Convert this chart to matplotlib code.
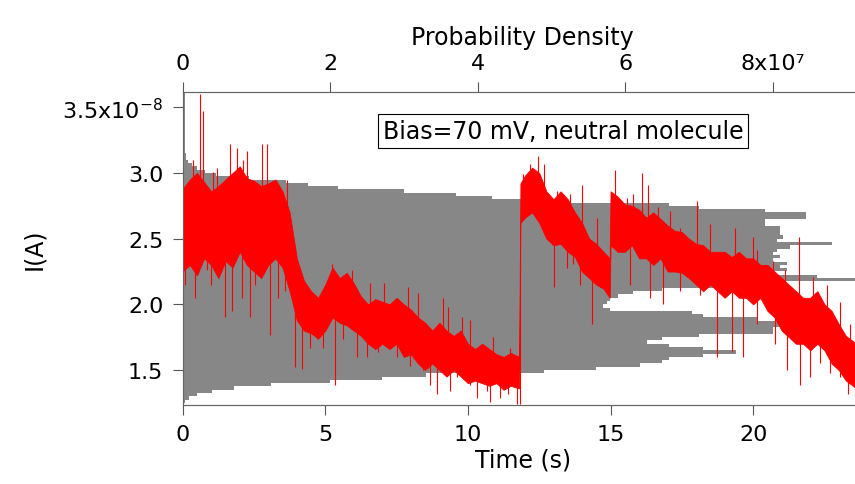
import numpy as np
import matplotlib
matplotlib.use("Agg")
import matplotlib.pyplot as plt

plt.rcParams['font.family'] = ['DejaVu Sans']

# histogram of current (units: 1e-8 A), bin lower edges and density (units: 1e7)
bin_lo = [1.250, 1.275, 1.300, 1.325, 1.350, 1.375, 1.400, 1.425, 1.450, 1.475,
          1.500, 1.525, 1.550, 1.575, 1.600, 1.625, 1.650, 1.675, 1.700, 1.725,
          1.750, 1.775, 1.800, 1.825, 1.850, 1.875, 1.900, 1.925, 1.950, 1.975,
          2.000, 2.025, 2.050, 2.075, 2.100, 2.125, 2.150, 2.175, 2.200, 2.225,
          2.250, 2.275, 2.300, 2.325, 2.350, 2.375, 2.400, 2.425, 2.450, 2.475,
          2.500, 2.525, 2.550, 2.575, 2.600, 2.625, 2.650, 2.675, 2.700, 2.725,
          2.750, 2.775, 2.800, 2.825, 2.850, 2.875, 2.900, 2.925, 2.950, 2.975,
          3.000, 3.025, 3.050, 3.075, 3.100, 3.125]
density = [0.03, 0.08, 0.2, 0.4, 0.7, 1.2, 2.0, 2.7, 3.3, 4.9,
           5.6, 6.2, 6.5, 6.6, 7.05, 7.5, 7.05, 6.6, 6.3, 6.5,
           7.0, 8.0, 8.0, 8.7, 8.7, 7.8, 7.05, 6.9, 5.8, 5.7,
           5.75, 5.8, 5.9, 6.1, 6.5, 7.9, 8.0, 9.3, 8.6, 8.0,
           8.2, 8.1, 8.2, 8.0, 8.1, 8.0, 8.06, 8.24, 8.8, 8.06,
           8.14, 8.1, 8.1, 8.1, 7.9, 7.9, 8.45, 8.45, 7.9, 7.0,
           6.6, 5.2, 4.2, 3.7, 3.0, 2.1, 1.7, 1.4, 0.9, 0.45,
           0.3, 0.2, 0.12, 0.07, 0.05, 0.04]
tail_lo, tail_hi, tail_dens = 3.15, 3.62, 0.03

# current trace: time (s), lower / upper edge of the dense band (1e-8 A)
t_s = [0.0, 0.25, 0.5, 0.75, 1.0, 1.25, 1.5, 1.75, 2.0, 2.25, 2.5, 2.75, 3.0, 3.25,
       3.5, 3.75, 4.0, 4.25, 4.5, 4.75, 5.0, 5.25, 5.5, 5.75, 6.0, 6.25, 6.5, 6.75,
       7.0, 7.25, 7.5, 7.75, 8.0, 8.25, 8.5, 8.75, 9.0, 9.25, 9.5, 9.75, 10.0, 10.25,
       10.5, 10.75, 11.0, 11.25, 11.5, 11.8, 11.84, 12.0, 12.25, 12.5, 12.75, 13.0,
       13.25, 13.5, 13.75, 14.0, 14.25, 14.5, 14.75, 14.97, 15.0, 15.25, 15.5, 15.75,
       16.0, 16.25, 16.5, 16.75, 17.0, 17.25, 17.5, 17.75, 18.0, 18.25, 18.5, 18.75,
       19.0, 19.25, 19.5, 19.75, 20.0, 20.25, 20.5, 20.75, 21.0, 21.25, 21.5, 21.75,
       22.0, 22.25, 22.5, 22.75, 23.0, 23.25, 23.5, 23.6]
i_lo = [2.25, 2.30, 2.22, 2.35, 2.30, 2.20, 2.33, 2.28, 2.40, 2.30, 2.25, 2.20, 2.30, 2.35,
        2.28, 2.10, 1.88, 1.80, 1.78, 1.74, 1.80, 1.90, 1.86, 1.84, 1.80, 1.76, 1.70, 1.66,
        1.70, 1.66, 1.70, 1.60, 1.62, 1.55, 1.50, 1.55, 1.50, 1.45, 1.50, 1.45, 1.40, 1.42,
        1.40, 1.38, 1.40, 1.35, 1.38, 1.36, 2.62, 2.66, 2.70, 2.62, 2.50, 2.45,
        2.46, 2.40, 2.36, 2.25, 2.20, 2.15, 2.12, 2.05, 2.45, 2.40, 2.40, 2.45,
        2.35, 2.35, 2.30, 2.35, 2.25, 2.25, 2.24, 2.20, 2.15, 2.10, 2.15, 2.10,
        2.05, 2.10, 2.05, 2.05, 2.00, 2.05, 1.95, 1.90, 1.80, 1.75, 1.70, 1.70,
        1.65, 1.70, 1.65, 1.55, 1.50, 1.42, 1.38, 1.36]
i_hi = [2.88, 2.95, 3.00, 2.93, 2.86, 2.90, 2.95, 3.00, 3.05, 2.96, 2.94, 2.90, 2.92, 2.95,
        2.86, 2.70, 2.35, 2.18, 2.10, 2.05, 2.15, 2.28, 2.20, 2.24, 2.16, 2.06, 2.00, 2.04,
        2.02, 2.00, 2.05, 2.00, 1.96, 1.90, 1.86, 1.80, 1.86, 1.80, 1.76, 1.80, 1.70, 1.66,
        1.70, 1.66, 1.62, 1.60, 1.63, 1.60, 2.92, 2.98, 3.04, 3.00, 2.86, 2.80,
        2.86, 2.80, 2.70, 2.62, 2.50, 2.46, 2.40, 2.35, 2.86, 2.82, 2.76, 2.75,
        2.72, 2.66, 2.70, 2.65, 2.60, 2.56, 2.55, 2.50, 2.46, 2.45, 2.40, 2.40,
        2.40, 2.36, 2.40, 2.35, 2.35, 2.30, 2.30, 2.25, 2.20, 2.15, 2.10, 2.05,
        2.05, 2.10, 2.00, 1.95, 1.85, 1.76, 1.72, 1.70]

# isolated spikes above the band: time (s), tip value (1e-8 A)
up_t = [0.35, 0.61, 0.70, 1.07, 1.19, 1.66, 1.89, 2.1, 2.24, 2.77, 2.94, 3.29, 3.64,
        5.22, 5.92, 6.57, 7.04, 7.91, 8.26, 9.14, 9.31, 9.78, 10.07, 10.89, 11.48,
        11.94, 12.18, 12.47, 12.65, 13.12, 13.58, 13.99, 14.51, 15.16, 15.57, 15.80,
        16.09, 16.33, 16.68, 17.09, 17.44, 18.02, 18.49, 19.37, 20.01, 20.13, 20.71,
        21.12, 21.61, 22.11, 22.58, 23.05, 23.40]
up_v = [3.10, 3.60, 3.47, 3.01, 3.04, 3.22, 3.19, 3.10, 3.17, 3.22, 3.22, 2.87, 2.95,
        2.31, 2.26, 2.16, 2.16, 2.13, 2.09, 2.05, 1.98, 1.90, 1.88, 1.75, 1.67,
        2.99, 3.07, 3.13, 3.07, 2.86, 2.84, 2.91, 2.66, 3.02, 2.81, 2.84,
        3.00, 2.91, 2.74, 2.71, 2.58, 2.79, 2.61, 2.58, 2.51, 2.41, 2.33,
        2.26, 2.51, 2.21, 2.15, 2.02, 1.85]
# isolated spikes below the band
dn_t = [0.08, 0.43, 0.84, 1.0, 1.48, 1.72, 2.07, 2.36, 2.53, 3.06, 3.35, 3.59, 3.94,
        4.17, 4.46, 4.70, 4.93, 5.34, 5.63, 6.10, 6.45, 6.86, 7.27, 7.5, 7.97, 8.44,
        8.67, 8.91, 9.37, 9.6, 10.07, 10.31, 10.66, 10.78, 11.13, 11.42, 11.71, 11.83,
        13.0, 13.47, 13.7, 13.93, 14.36, 14.63, 14.87, 15.68, 16.39, 16.85, 17.44,
        18.14, 18.72, 19.25, 19.66, 20.13, 20.77, 21.18, 21.65, 22.0, 22.35, 22.70,
        23.05, 23.34, 23.57]
dn_v = [2.15, 2.05, 2.26, 2.15, 1.90, 1.95, 2.05, 1.90, 2.15, 1.77, 2.05, 2.10, 1.52,
        1.51, 1.67, 1.74, 1.67, 1.39, 1.74, 1.60, 1.60, 1.64, 1.69, 1.60, 1.53, 1.50,
        1.39, 1.32, 1.34, 1.45, 1.39, 1.29, 1.34, 1.26, 1.29, 1.32, 1.24, 1.24,
        2.13, 2.28, 2.31, 2.15, 1.85, 2.13, 2.10, 2.15, 2.05, 2.00, 2.10,
        2.07, 1.60, 1.64, 1.60, 1.85, 1.70, 1.50, 1.39, 1.45, 1.55, 1.48,
        1.45, 1.32, 1.39]

bg = '#FDE8C4'
gray = '#878787'

fig = plt.figure(figsize=(8.55, 4.85), dpi=100)
ax = fig.add_axes([182.7 / 855, 79 / 485, 680 / 855, 313 / 485])
ax_top = ax.twiny()

# histogram underneath, trace on top
ax_top.set_facecolor(bg)
ax_top.barh(bin_lo, density, height=0.025, align='edge', color=gray, linewidth=0)
ax_top.barh(tail_lo, tail_dens, height=tail_hi - tail_lo, align='edge', color=gray, linewidth=0)
ax.set_zorder(ax_top.get_zorder() + 1)
ax.patch.set_visible(False)

ax.fill_between(t_s, i_lo, i_hi, color='red', linewidth=0.6, edgecolor='red')
ax.vlines(up_t, np.interp(up_t, t_s, i_hi) - 0.05, up_v, color='red', linewidth=0.8)
ax.vlines(dn_t, np.interp(dn_t, t_s, i_lo) + 0.05, dn_v, color='red', linewidth=0.8)

ax.set_xlim(0, 23.84)
ax.set_ylim(1.234, 3.616)
ax_top.set_xlim(0, 9.22)

ax.set_xticks([0, 5, 10, 15, 20])
ax.set_xticklabels(['0', '5', '10', '15', '20'])
ax_top.set_xticks([0, 2, 4, 6, 8])
ax_top.set_xticklabels(['0', '2', '4', '6', '8x10\u2077'])
ax.set_yticks([1.5, 2.0, 2.5, 3.0, 3.5])
ax.set_yticklabels(['1.5', '2.0', '2.5', '3.0', r'3.5x10$^{-8}$'])

for a in (ax, ax_top):
    a.tick_params(labelsize=16, length=7, width=0.8, color='#555555', pad=7)
    a.spines['right'].set_visible(False)
    for s in a.spines.values():
        s.set_color('#666666')
        s.set_linewidth(0.8)

ax.set_xlabel('Time (s)', fontsize=17, labelpad=2)
ax.set_ylabel('I(A)', fontsize=17, labelpad=12)
ax_top.set_xlabel('Probability Density', fontsize=17, labelpad=6)

ax.text(13.33, 3.319, 'Bias=70 mV, neutral molecule', fontsize=17,
        ha='center', va='center',
        bbox=dict(boxstyle='square,pad=0.2', facecolor='white', edgecolor='black', linewidth=0.8))

fig.savefig('out.png', dpi=100)
